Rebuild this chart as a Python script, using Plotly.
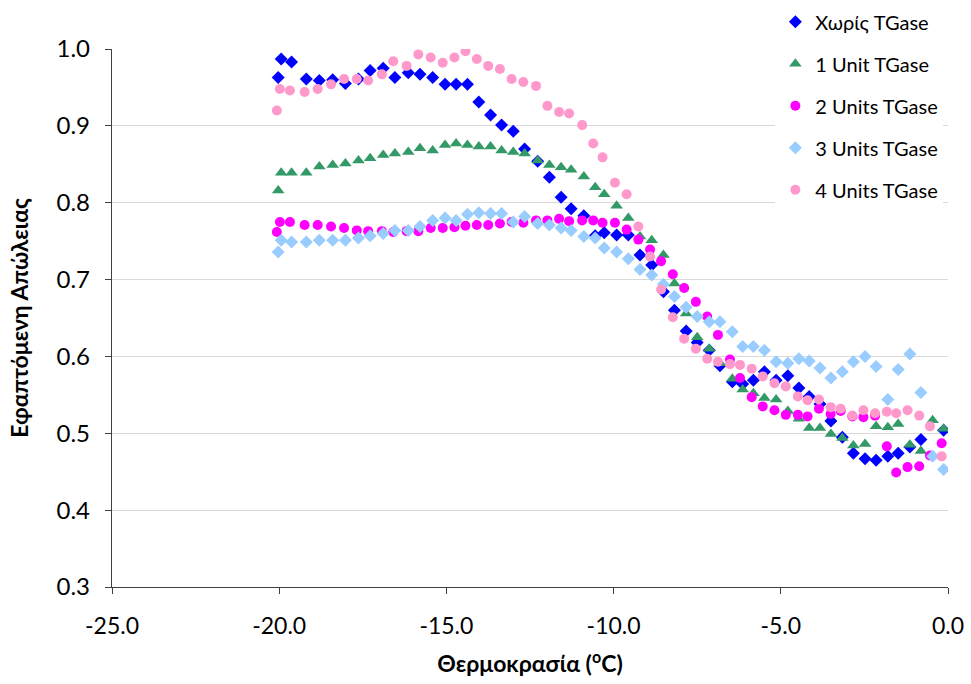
import plotly.graph_objects as go

# Temperature (°C) and tan(delta) loss values for each TGase dose
temp_a = [-20.03, -19.94, -19.63, -19.19, -18.80, -18.40, -18.02, -17.63, -17.28, -16.89,
          -16.54, -16.14, -15.79, -15.41, -15.04, -14.71, -14.37, -14.03, -13.68, -13.35,
          -13.00, -12.66, -12.27, -11.92, -11.57, -11.27, -10.89, -10.55, -10.28, -9.91,
          -9.56, -9.21, -8.86, -8.51, -8.18, -7.83, -7.50, -7.14, -6.82, -6.45,
          -6.14, -5.82, -5.49, -5.14, -4.79, -4.46, -4.15, -3.83, -3.50, -3.16,
          -2.83, -2.48, -2.15, -1.80, -1.49, -1.14, -0.81, -0.46, -0.13]

temp_b = [-20.07, -19.98, -19.68, -19.24, -18.85, -18.45, -18.06, -17.68, -17.34, -16.93,
          -16.59, -16.19, -15.84, -15.47, -15.11, -14.76, -14.43, -14.09, -13.75, -13.40,
          -13.05, -12.70, -12.32, -11.98, -11.63, -11.33, -10.94, -10.61, -10.33, -9.96,
          -9.61, -9.26, -8.91, -8.58, -8.23, -7.89, -7.54, -7.20, -6.88, -6.52,
          -6.22, -5.87, -5.54, -5.19, -4.85, -4.49, -4.20, -3.86, -3.51, -3.21,
          -2.86, -2.53, -2.18, -1.83, -1.55, -1.21, -0.86, -0.54, -0.19]

no_tgase = [0.963, 0.987, 0.983, 0.961, 0.959, 0.960, 0.955, 0.961, 0.972, 0.975,
            0.963, 0.969, 0.967, 0.963, 0.954, 0.954, 0.954, 0.931, 0.914, 0.901,
            0.893, 0.870, 0.854, 0.833, 0.807, 0.792, 0.783, 0.757, 0.761, 0.758,
            0.758, 0.732, 0.719, 0.684, 0.660, 0.633, 0.618, 0.608, 0.588, 0.567,
            0.564, 0.569, 0.580, 0.569, 0.575, 0.559, 0.548, 0.538, 0.516, 0.495,
            0.474, 0.467, 0.465, 0.470, 0.474, 0.482, 0.492, None, 0.504]

unit_1 = [0.816, 0.839, 0.839, 0.839, 0.847, 0.849, 0.851, 0.855, 0.858, 0.862,
          0.864, 0.866, 0.871, 0.868, 0.875, 0.877, 0.875, 0.873, 0.873, 0.868,
          0.866, 0.864, 0.855, 0.849, 0.846, 0.843, 0.834, 0.820, 0.811, 0.796,
          0.780, 0.756, 0.751, 0.732, 0.695, 0.656, 0.625, 0.610, 0.591, 0.571,
          0.557, 0.552, 0.546, 0.544, 0.529, 0.519, 0.507, 0.507, 0.499, 0.494,
          0.484, 0.486, 0.509, 0.508, 0.512, 0.485, 0.477, 0.517, 0.506]

units_2 = [0.762, 0.775, 0.775, 0.771, 0.771, 0.769, 0.767, 0.764, 0.763, 0.763,
           0.762, 0.763, 0.763, 0.767, 0.767, 0.768, 0.770, 0.771, 0.771, 0.773,
           0.775, 0.774, 0.777, 0.777, 0.779, 0.776, 0.777, 0.777, 0.774, 0.774,
           0.765, 0.752, 0.739, 0.724, 0.707, 0.689, 0.671, 0.652, 0.628, 0.596,
           0.572, 0.547, 0.535, 0.530, 0.524, 0.524, 0.522, 0.532, 0.525, 0.529,
           0.522, 0.521, 0.523, 0.483, 0.449, 0.456, 0.457, 0.471, 0.487]

units_3 = [0.736, 0.751, 0.749, 0.749, 0.751, 0.751, 0.751, 0.754, 0.757, 0.760,
           0.764, 0.764, 0.769, 0.777, 0.780, 0.777, 0.785, 0.787, 0.786, 0.786,
           0.775, 0.782, 0.773, 0.771, 0.767, 0.764, 0.756, 0.754, 0.741, 0.736,
           0.727, 0.713, 0.706, 0.694, 0.678, 0.664, 0.652, 0.645, 0.645, 0.632,
           0.613, 0.613, 0.608, 0.593, 0.591, 0.597, 0.594, 0.585, 0.572, 0.580,
           0.593, 0.600, 0.587, 0.544, 0.583, 0.603, 0.553, 0.470, 0.453]

units_4 = [0.920, 0.948, 0.946, 0.944, 0.948, 0.954, 0.961, 0.961, 0.959, 0.967,
           0.984, 0.978, 0.993, 0.989, 0.982, 0.989, 0.997, 0.987, 0.978, 0.974,
           0.961, 0.957, 0.952, 0.926, 0.918, 0.916, 0.901, 0.877, 0.859, 0.826,
           0.811, 0.769, 0.730, 0.687, 0.651, 0.623, 0.610, 0.597, 0.593, 0.590,
           0.589, 0.584, 0.574, 0.565, 0.561, 0.548, 0.543, 0.544, 0.534, 0.532,
           0.523, 0.530, 0.526, 0.528, 0.526, 0.530, 0.523, 0.509, 0.470]

x_ticks = [-25, -20, -15, -10, -5, 0]
x_tick_text = ["-25.0", "-20.0", "-15.0", "-10.0", "-5.0", "0.0"]
y_ticks = [0.3, 0.4, 0.5, 0.6, 0.7, 0.8, 0.9, 1.0]
y_tick_text = ["0.3", "0.4", "0.5", "0.6", "0.7", "0.8", "0.9", "1.0"]

series = [
    ("Χωρίς TGase", temp_a, no_tgase, "diamond", "#0000FF", 10),
    ("1 Unit TGase", temp_a, unit_1, "triangle-up", "#339966", 11),
    ("2 Units TGase", temp_b, units_2, "circle", "#FF00FF", 10),
    ("3 Units TGase", temp_a, units_3, "diamond", "#99CCFF", 10),
    ("4 Units TGase", temp_b, units_4, "circle", "#FF99CC", 10),
]

text_font = "Lato, 'Noto Sans', sans-serif"

fig = go.Figure()
for i, (name, xs, ys, symbol, color, size) in enumerate(series):
    fig.add_trace(go.Scatter(
        x=xs, y=ys, mode="markers", name=name,
        legendgroup=f"g{i}",
        marker=dict(symbol=symbol, color=color, size=size, line=dict(width=0)),
    ))

fig.update_layout(
    width=971, height=684,
    margin=dict(l=112, r=23, t=49, b=97, autoexpand=False),
    paper_bgcolor="white", plot_bgcolor="white",
    showlegend=True,
    legend=dict(
        x=0.7935, y=1.087, xanchor="left", yanchor="top",
        bgcolor="white", borderwidth=0,
        font=dict(family=text_font, size=20, color="black"),
        traceorder="grouped", tracegroupgap=13,
        itemsizing="trace",
    ),
    xaxis=dict(
        range=[-25, 0], tickvals=x_ticks, ticktext=x_tick_text,
        showgrid=False, zeroline=False,
        showline=True, linecolor="#404040", linewidth=1.3,
        ticks="outside", ticklen=6, tickcolor="#404040", tickwidth=1.3,
        tickfont=dict(family=text_font, size=23, color="black"),
        ticklabelstandoff=12,
        title=dict(text="<b>Θερμοκρασία (<sup>o</sup>C)</b>",
                   font=dict(family=text_font, size=23, color="black"),
                   standoff=18),
    ),
    yaxis=dict(
        range=[0.3, 1.0], tickvals=y_ticks, ticktext=y_tick_text,
        showgrid=True, gridcolor="#D9D9D9", gridwidth=1,
        zeroline=False,
        showline=True, linecolor="#404040", linewidth=1.3,
        ticks="outside", ticklen=6, tickcolor="#404040", tickwidth=1.3,
        tickfont=dict(family=text_font, size=24, color="black"),
        ticklabelstandoff=10,
        title=dict(text="<b>Εφαπτόμενη Απώλειας</b>",
                   font=dict(family=text_font, size=23, color="black"),
                   standoff=21),
    ),
)

fig.write_html("out.html")
